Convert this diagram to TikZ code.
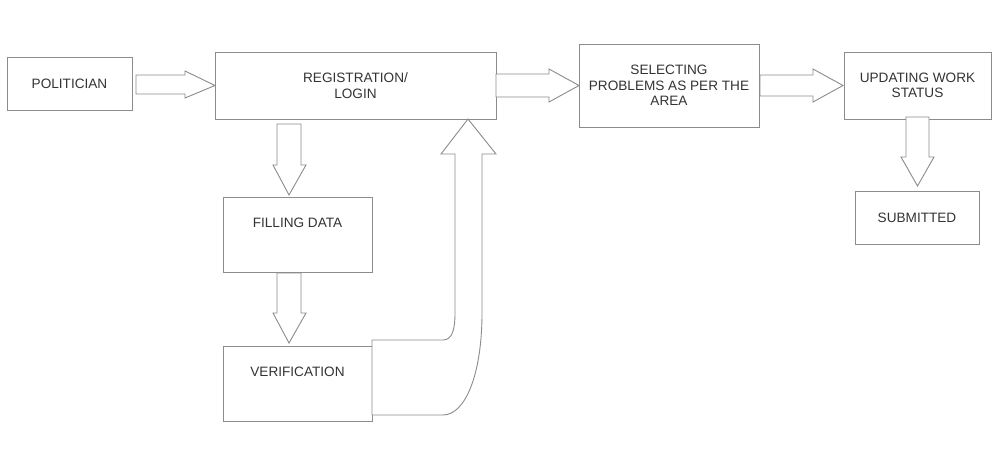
\documentclass[tikz,border=0pt]{standalone}
\usepackage{fontspec}
\setmainfont{Liberation Sans}
\usetikzlibrary{calc}
\definecolor{linegray}{HTML}{8C8C8C}
\definecolor{textgray}{HTML}{333333}
\tikzset{
  box/.style={draw=linegray, line width=0.9pt, fill=white, inner sep=0pt, outer sep=0pt},
  txt/.style={text=textgray, font=\fontsize{13.6}{15.5}\selectfont, align=center, inner sep=0pt},
  blk/.style={draw=linegray, line width=0.9pt, line join=miter, fill=white}
}
\begin{document}
\begin{tikzpicture}[x=1pt, y=-1pt]
\useasboundingbox[fill=white] (0,0) rectangle (1000,463);

% boxes
\node[box, minimum width=125pt, minimum height=53pt] (pol) at (69.5,83.5) {};
\node[box, minimum width=281pt, minimum height=67pt] (reg) at (355.5,85.5) {};
\node[box, minimum width=180pt, minimum height=83pt] (sel) at (669,85.5) {};
\node[box, minimum width=147pt, minimum height=67pt] (upd) at (917.5,85.5) {};
\node[box, minimum width=124pt, minimum height=53pt] (sub) at (917,217.5) {};
\node[box, minimum width=149pt, minimum height=75pt] (fill) at (297.5,234.5) {};
\node[box, minimum width=149pt, minimum height=75pt] (ver) at (297.5,383.5) {};

% texts
\node[txt] (poltxt) at (pol.center) {POLITICIAN};
\node[txt] (regtxt) at (reg.center) {REGISTRATION/\\LOGIN};
\node[txt] (seltxt) at (sel.center) {SELECTING\\PROBLEMS AS PER THE\\AREA};
\node[txt] (updtxt) at (upd.center) {UPDATING WORK\\STATUS};
\node[txt] (subtxt) at (sub.center) {SUBMITTED};
\node[txt] (filltxt) at ($(fill.north)+(0,26)$) {FILLING DATA};
\node[txt] (vertxt) at ($(ver.north)+(0,25.5)$) {VERIFICATION};

% politician -> registration
\draw[blk] ($(pol.east)+(4,0)$) ++(0,-8.5) -- ++(49,0) -- ++(0,-4) -- (reg.west)
  -- ++(-30,12.5) -- ++(0,-4) -- ++(-49,0) -- cycle;

% registration -> selecting
\draw[blk] (reg.east) ++(0,-11.5) -- ++(53,0) -- ++(0,-5) -- (sel.west)
  -- ++(-30,16.5) -- ++(0,-5) -- ++(-53,0) -- cycle;

% selecting -> updating
\draw[blk] ($(sel.east)+(1,0)$) ++(0,-10.5) -- ++(53,0) -- ++(0,-6) -- ($(upd.west)+(-1,0)$)
  -- ++(-30,16.5) -- ++(0,-6) -- ++(-53,0) -- cycle;

% updating -> submitted
\draw[blk] ($(upd.south)+(0,-2)$) ++(-11.5,0) -- ++(0,40) -- ++(-5,0) -- ($(sub.north)+(0.5,-5)$)
  -- ++(16.5,-29) -- ++(-5,0) -- ++(0,-40) -- cycle;

% registration -> filling data
\draw[blk] ($(reg.south west)+(74,5)$) ++(-12,0) -- ++(0,41) -- ++(-4,0) -- ($(fill.north west)+(66,-2)$)
  -- ++(17,-30) -- ++(-5,0) -- ++(0,-41) -- cycle;

% filling data -> verification
\draw[blk] ($(fill.south west)+(66,1)$) ++(-12,0) -- ++(0,40) -- ++(-4,0) -- ($(ver.north west)+(66,-3)$)
  -- ++(17,-30) -- ++(-5,0) -- ++(0,-40) -- cycle;

% verification -> registration (U-shaped block arrow)
\draw[blk] ($(ver.north east)+(0,-6)$) coordinate (u0)
  -- ++(71,0) .. controls ++(9,0) and ++(0,17) .. ++(12,-27)
  -- ++(0,-159) -- ++(-14,0) -- ($(reg.south east)+(-28,0)$)
  -- ++(28,35) -- ++(-14,0) -- ++(0,159)
  .. controls ++(0,62) and ++(22,0) .. ++(-39,102)
  -- ($(u0)+(0,75)$) -- cycle;

\end{tikzpicture}
\end{document}
